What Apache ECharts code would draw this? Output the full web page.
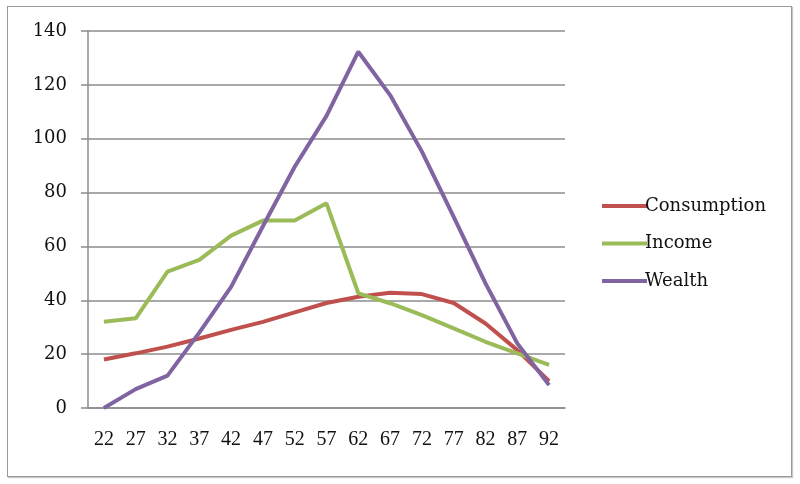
<!DOCTYPE html>
<html>
<head>
<meta charset="utf-8">
<script src="https://cdn.jsdelivr.net/npm/echarts@6/dist/echarts.min.js"></script>
<style>
  html, body { margin: 0; padding: 0; background: #fff; }
  #frame { position: absolute; left: 7px; top: 6px; width: 783px; height: 469px;
           border: 1px solid #9a9a9a; box-shadow: 1px 1px 1px #c8c8c8; }
  #chart { position: absolute; left: 0; top: 0; width: 800px; height: 484px; }
</style>
</head>
<body>
<div id="frame"></div>
<div id="chart"></div>
<script>
// ages on the x axis
const ages = ['22', '27', '32', '37', '42', '47', '52', '57', '62', '67', '72', '77', '82', '87', '92'];
const consumption = [18, 20.3, 22.8, 25.8, 29, 32, 35.5, 39, 41.3, 42.8, 42.3, 39, 31.4, 21.5, 10];
const income = [32, 33.3, 50.6, 55, 64, 69.6, 69.6, 76, 42.6, 38.9, 34.5, 29.6, 24.6, 20.3, 16];
const wealth = [0, 7, 12, 28, 45, 67.5, 89.6, 108.5, 132.3, 116.2, 95.2, 71, 46.3, 24, 8.5];

const serif = 'DejaVu Serif';
const gray = '#8c8c8c';

let myChart = echarts.init(document.getElementById('chart'));

const mkLine = (name, data, color) => ({
    name: name,
    type: 'line',
    data: data,
    symbol: 'none',
    lineStyle: { color: color, width: 4 },
    itemStyle: { color: color },
    animation: false
})

myChart.setOption({
    backgroundColor: 'transparent',
    grid: { left: 88, top: 31, width: 477, height: 377 },
    legend: {
        orient: 'vertical',
        left: 597,
        top: 192,
        icon: 'rect',
        itemWidth: 45,
        itemHeight: 4,
        itemGap: 19.5,
        textStyle: { fontFamily: serif, fontSize: 18, color: '#111', padding: [0, 0, 0, -7] },
        data: ['Consumption', 'Income', 'Wealth']
    },
    xAxis: {
        type: 'category',
        data: ages,
        axisLine: { lineStyle: { color: gray, width: 1.5 } },
        axisTick: { length: 6, lineStyle: { color: gray, width: 1.5 } },
        axisLabel: { fontFamily: 'Liberation Serif', fontSize: 20, color: '#111', margin: 22 }
    },
    yAxis: {
        type: 'value',
        min: 0,
        max: 140,
        interval: 20,
        axisLine: { show: true, lineStyle: { color: gray, width: 1.5 } },
        axisTick: { show: true, length: 7, lineStyle: { color: gray, width: 1.5 } },
        axisLabel: { fontFamily: serif, fontSize: 18, color: '#111', margin: 21 },
        splitLine: { lineStyle: { color: gray, width: 1.5 } }
    },
    series: [
        mkLine('Consumption', consumption, '#c0504d'),
        mkLine('Income', income, '#9bbb59'),
        mkLine('Wealth', wealth, '#8064a2')
    ]
})
</script>
</body>
</html>
